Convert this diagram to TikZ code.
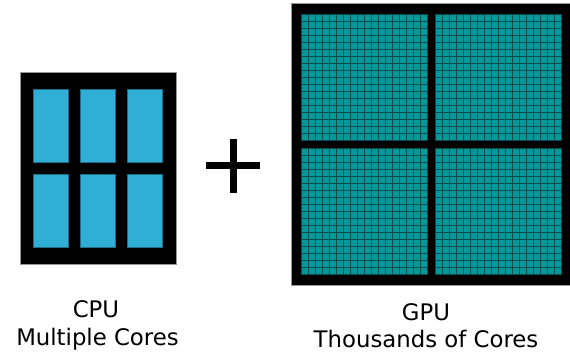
\documentclass[tikz,border=0pt]{standalone}
\usepackage{fontspec}
\setmainfont{DejaVu Sans}
\definecolor{cpucore}{RGB}{48,174,214}
\definecolor{cpuedge}{RGB}{30,110,135}
\definecolor{gpucore}{RGB}{0,152,152}
\definecolor{gpuedge}{RGB}{15,75,75}
\definecolor{chipedge}{RGB}{150,150,150}
\tikzset{
  chip/.style={fill=black, draw=chipedge, line width=0.6pt},
  cpucell/.style={fill=cpucore, draw=cpuedge, line width=0.5pt},
  gpucell/.style={fill=gpucore, draw=gpuedge, line width=0.85pt},
  caption/.style={font=\fontsize{22.8}{27}\selectfont, anchor=base, inner sep=0pt},
}
\begin{document}
\begin{tikzpicture}[x={(1pt,0)}, y={(0,-1pt)}]
\useasboundingbox (0,0) rectangle (570,353);

% CPU package with six cores
\path[chip] (20,72) rectangle (176,264);
\coordinate (cpu) at (98,168);
\foreach \cx in {33,80,127}{
  \foreach \cy in {89.3,174.3}{
    \path[cpucell] (\cx,\cy) rectangle ++(35.3,73.4);
  }
}

% plus sign
\fill (206.3,162) rectangle (259.7,169.3);
\fill (229.7,139.3) rectangle (237,192.7);

% GPU package: four blocks of 18 x 18 cores
\path[chip] (291.5,3.3) rectangle (570.5,285);
\coordinate (gpu) at (431,144);
\foreach \qx in {301,435}{
  \foreach \qy in {14,148}{
    \foreach \i in {0,...,17}{
      \foreach \j in {0,...,17}{
        \path[gpucell] ({\qx+7*\i},{\qy+7*\j}) rectangle ++(7,7);
      }
    }
  }
}

% captions
\node[caption] (cpu1) at (96,317.3) {CPU};
\node[caption] (cpu2) at (97.5,345) {Multiple Cores};
\node[caption] (gpu1) at (426,320) {GPU};
\node[caption] (gpu2) at (426,347.3) {Thousands of Cores};
\end{tikzpicture}
\end{document}
